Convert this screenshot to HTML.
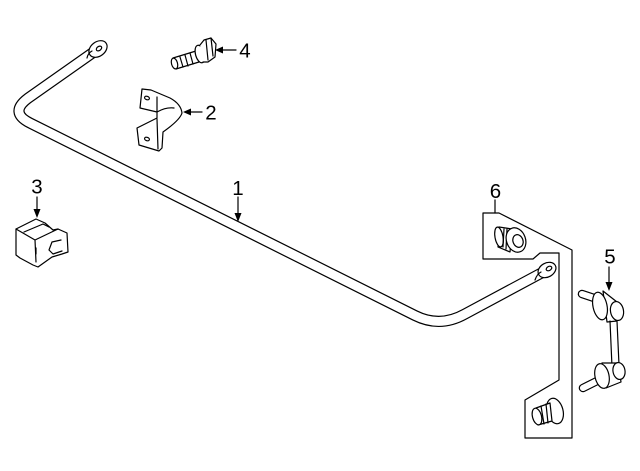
<!DOCTYPE html>
<html><head><meta charset="utf-8">
<style>
html,body{margin:0;padding:0;background:#fff;}
svg{display:block;}
text{font-family:"Liberation Sans",sans-serif;font-size:20.5px;fill:#000;}
</style></head>
<body>
<svg width="640" height="471" viewBox="0 0 640 471" xmlns="http://www.w3.org/2000/svg">
<g fill="none" stroke="#000" stroke-width="1.2" stroke-linejoin="round" stroke-linecap="round">

<!-- Stabilizer bar (1) -->
<path d="M98,49 L28,98.25 Q9,112.5 30,123 L415,315.5 Q440,328 465,314 L547,270" stroke-width="11.2"/>
<path d="M98,49 L28,98.25 Q9,112.5 30,123 L415,315.5 Q440,328 465,314 L547,270" stroke="#fff" stroke-width="8.8"/>
<!-- upper-left eye -->
<ellipse cx="98" cy="49" rx="10" ry="7.2" transform="rotate(-37 98 49)" fill="#fff"/>
<ellipse cx="99" cy="48.5" rx="3" ry="2" transform="rotate(-37 99 48.5)"/>
<path d="M87,58 Q88,53 92,51"/>
<!-- right eye -->
<ellipse cx="547" cy="270" rx="9.5" ry="7" transform="rotate(-30 547 270)" fill="#fff"/>
<ellipse cx="549" cy="268.5" rx="3" ry="2" transform="rotate(-30 549 268.5)"/>
<path d="M535,280 Q537,274 541,272"/>

<!-- Bracket 6 -->
<path d="M483,213 L499,213 L572,250 L572,438 L525,438 L525,400 L559,380 L559,253 L540,253 L533,259 L483,259 Z" fill="#fff"/>
<!-- upper bushing -->
<path d="M499,227 L512,229 L510,252 L498,247 Z" fill="#fff"/>
<ellipse cx="499" cy="237" rx="4" ry="10" transform="rotate(-10 499 237)" fill="#fff"/>
<path d="M504,229 L503,247 M507,229 L506,249"/>
<ellipse cx="516" cy="240" rx="9.5" ry="12.5" transform="rotate(-20 516 240)" fill="#fff"/>
<ellipse cx="518" cy="241" rx="5" ry="6.5" transform="rotate(-20 518 241)"/>
<!-- lower bolt -->
<ellipse cx="555" cy="411" rx="8" ry="13" transform="rotate(-15 555 411)" fill="#fff"/>
<path d="M536,408 L550,403 L552,421 L538,425 Z" fill="#fff"/>
<ellipse cx="537" cy="416.5" rx="4.5" ry="8.5" transform="rotate(-15 537 416.5)" fill="#fff"/>
<path d="M541,406 L544,424 M546,404 L548,423"/>

<!-- Stabilizer link (5) -->
<line x1="582" y1="294" x2="597" y2="299" stroke-width="8.5"/>
<line x1="582" y1="294" x2="597" y2="299" stroke="#fff" stroke-width="6.1"/>
<path d="M603,291 L617,302 L617,321 L607,322 Z" fill="#fff"/>
<ellipse cx="600" cy="306" rx="7" ry="14" transform="rotate(-12 600 306)" fill="#fff"/>
<ellipse cx="617" cy="311" rx="6.5" ry="9.5" transform="rotate(-10 617 311)" fill="#fff"/>
<path d="M610,321 L612,367 M617,321 L619,365"/>
<line x1="597" y1="381" x2="583" y2="388" stroke-width="8.5"/>
<line x1="597" y1="381" x2="583" y2="388" stroke="#fff" stroke-width="6.1"/>
<path d="M602,363 L618,363 L621,382 L606,388 Z" fill="#fff"/>
<ellipse cx="602" cy="376" rx="7" ry="12.5" transform="rotate(-12 602 376)" fill="#fff"/>
<ellipse cx="619" cy="371" rx="6" ry="8.5" transform="rotate(-10 619 371)" fill="#fff"/>

<!-- Bracket 2 -->
<path d="M142,89 L151,90 L170,98 Q181,104 182,113 Q180,120 163,132 L162,148 L159,151 L139,145 L137,128 L157,118 L157,112 L140,108 Z" fill="#fff"/>
<path d="M157,97 L157,112 M157,112 Q166,107 174,108 M157,119 L158,149"/>
<ellipse cx="147" cy="98" rx="2.5" ry="1.7" transform="rotate(20 147 98)"/>
<ellipse cx="147" cy="139" rx="2.5" ry="1.7" transform="rotate(20 147 139)"/>

<!-- Bolt 4 -->
<path d="M173,58 L196,51 L199,62 L176,69 Z" fill="#fff"/>
<ellipse cx="174.5" cy="63.5" rx="3" ry="5.5" transform="rotate(-15 174.5 63.5)" fill="#fff"/>
<path d="M180,57 L183,67 M185,55 L188,66 M190,53 L193,64"/>
<ellipse cx="200" cy="54" rx="4.5" ry="9" transform="rotate(-15 200 54)" fill="#fff"/>
<path d="M200,45 L204,40 L211,38 L216,44 L215,57 L208,62 L203,62" fill="#fff"/>
<path d="M206,40 L208,60 M211,38 L213,56"/>

<!-- Insulator 3 -->
<path d="M16,229 L36,219 L45,223 L53,230 L58,229 L67,233 L68,252 L62,254 L52,257 L38,267 L33,265 L20,258 L16,255 Z" fill="#fff"/>
<path d="M16,229 L35,240 L58,229 M24,232 L43,224 L49,227 M35,240 L36,262 M36,248 L36,254 M61,240 L52,242 L49,250 L53,254 L62,251"/>

<!-- callout lines -->
<path d="M238,197 L238,214 M202,112 L190,112 M37,197 L37,210 M236,50 L222,50 M609,267 L609,283 M495,200 L495,213"/>
</g>
<!-- arrowheads -->
<g fill="#000" stroke="none">
<path d="M234.5,213 L241.5,213 L238,222 Z"/>
<path d="M191,108.5 L191,115.5 L183,112 Z"/>
<path d="M33.5,209 L40.5,209 L37,218 Z"/>
<path d="M223,46.5 L223,53.5 L215,50 Z"/>
<path d="M605.5,282 L612.5,282 L609,291 Z"/>
</g>
<!-- labels -->
<text x="238" y="195" text-anchor="middle">1</text>
<text x="211" y="119.5" text-anchor="middle">2</text>
<text x="37" y="193.5" text-anchor="middle">3</text>
<text x="245" y="57.5" text-anchor="middle">4</text>
<text x="610" y="263.5" text-anchor="middle">5</text>
<text x="495.5" y="198" text-anchor="middle">6</text>
</svg>
</body></html>
